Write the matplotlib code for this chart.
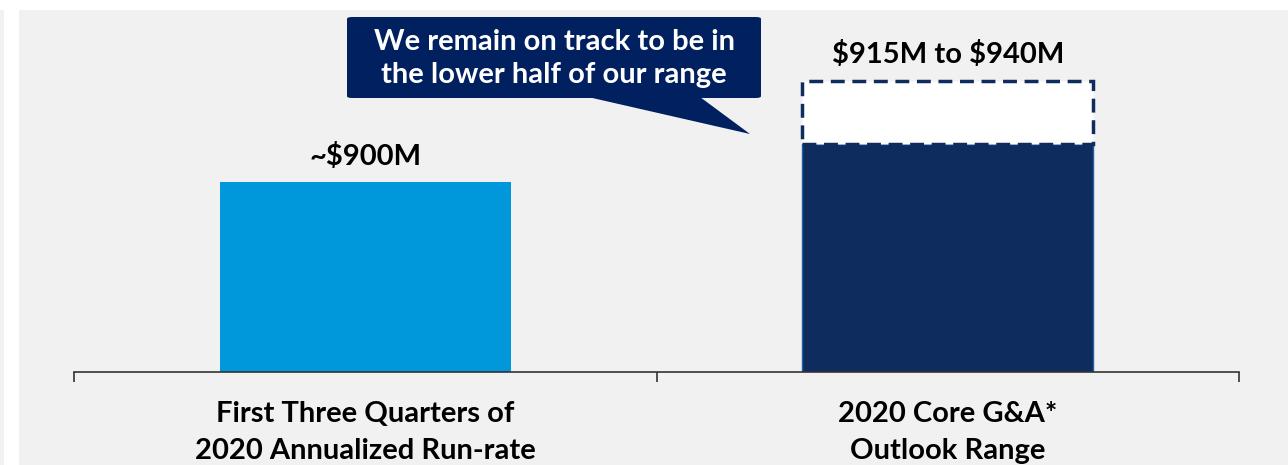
import matplotlib.pyplot as plt
from matplotlib.patches import Rectangle, FancyBboxPatch, Polygon

# chart data
categories = ["First Three Quarters of\n2020 Annualized Run-rate", "2020 Core G&A*\nOutlook Range"]
base_values = [900, 915]
range_top = [None, 940]
value_labels = ["~$900M", "$915M to $940M"]
callout_text = "We remain on track to be in\nthe lower half of our range"

LIGHT_BLUE = "#0098da"
NAVY = "#0e2d5e"
CALLOUT = "#002060"
FONT = ["Lato", "DejaVu Sans"]

W, H = 1288, 465
fig = plt.figure(figsize=(W / 100, H / 100), dpi=100)
fig.patch.set_facecolor("white")

# gray slide panel + thin strip at far left
fig.patches.append(Rectangle((19 / W, 0), 1, 1 - 10 / H, transform=fig.transFigure,
                             facecolor="#f1f1f1", edgecolor="none", zorder=-1))
fig.patches.append(Rectangle((0, 0), 4 / W, 1 - 10 / H, transform=fig.transFigure,
                             facecolor="#f1f1f1", edgecolor="none", zorder=-1))

ax = fig.add_axes([74 / W, (H - 372) / H, (1239 - 74) / W, (372 - 10) / H])
ax.set_facecolor("none")
ax.set_zorder(1)

x = list(range(len(categories)))
ymin = 825
ax.bar(x, [v - ymin for v in base_values], bottom=ymin, width=0.5,
       color=[LIGHT_BLUE, NAVY], edgecolor=["none", "#1f5fa8"], linewidth=1)

for i, top in enumerate(range_top):
    if top is not None:
        ax.bar(i, top - base_values[i], bottom=base_values[i], width=0.5,
               color="white", edgecolor=NAVY, linewidth=2.5, linestyle=(0, (4, 2.2)))

for i, lbl in enumerate(value_labels):
    top = range_top[i] if range_top[i] is not None else base_values[i]
    ax.annotate(lbl, (i, top), xytext=(0, 9), textcoords="offset points",
                ha="center", va="bottom", fontsize=21, fontweight="bold",
                family=FONT, color="black", parse_math=False)

ax.set_xlim(-0.5, len(categories) - 0.5)
ax.set_ylim(ymin, 968)
ax.set_yticks([])
for s in ["top", "right", "left"]:
    ax.spines[s].set_visible(False)
ax.spines["bottom"].set_color("#333333")
ax.spines["bottom"].set_linewidth(1.2)

ax.set_xticks(x)
ax.set_xticklabels(categories, fontsize=21, fontweight="bold", family=FONT,
                   linespacing=1.5)
ax.tick_params(axis="x", which="major", length=0, pad=21)
ax.set_xticks([i - 0.5 for i in range(len(categories) + 1)], minor=True)
ax.tick_params(axis="x", which="minor", length=7, width=1.2, color="#333333")

# speech-bubble callout
bx0, bx1, by0, by1 = 347, 761, 17, 98
fig.patches.append(FancyBboxPatch((bx0 / W, 1 - by1 / H), (bx1 - bx0) / W, (by1 - by0) / H,
                                  boxstyle="round,pad=0,rounding_size=0.004",
                                  transform=fig.transFigure, facecolor=CALLOUT,
                                  edgecolor="none", zorder=5))
tail = [(588, 97), (700, 97), (750, 134)]
fig.patches.append(Polygon([(px / W, 1 - py / H) for px, py in tail], closed=True,
                           transform=fig.transFigure, facecolor=CALLOUT,
                           edgecolor="none", zorder=5))
fig.text((bx0 + bx1) / 2 / W, 1 - (by0 + by1 + 2) / 2 / H, callout_text, ha="center",
         va="center", color="white", fontsize=21, fontweight="bold", family=FONT,
         linespacing=1.38, zorder=6)

fig.savefig("out.png", dpi=100, facecolor=fig.get_facecolor())
